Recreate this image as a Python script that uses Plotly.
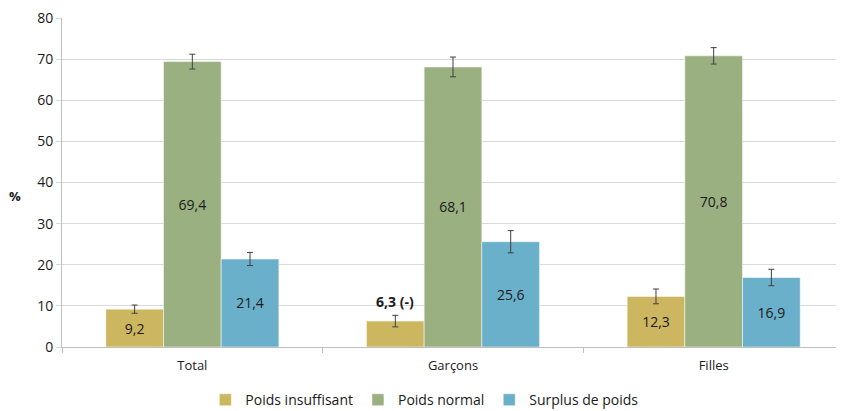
import plotly.graph_objects as go

categories = ["Total", "Garçons", "Filles"]
series_names = ["Poids insuffisant", "Poids normal", "Surplus de poids"]
insuffisant = [9.2, 6.3, 12.3]
normal = [69.4, 68.1, 70.8]
surplus = [21.4, 25.6, 16.9]
err_insuffisant = [1.0, 1.4, 1.8]
err_normal = [1.8, 2.4, 2.0]
err_surplus = [1.6, 2.7, 2.0]
labels_insuffisant = ["9,2", "", "12,3"]
labels_normal = ["69,4", "68,1", "70,8"]
labels_surplus = ["21,4", "25,6", "16,9"]
special_label = "6,3 (-)"
y_ticks = [0, 10, 20, 30, 40, 50, 60, 70, 80]

colors = ["#CDB660", "#9BB081", "#6AB0CB"]
font_family = "Open Sans, Noto Sans, sans-serif"

fig = go.Figure()
for name, vals, errs, labs, col in zip(
    series_names,
    [insuffisant, normal, surplus],
    [err_insuffisant, err_normal, err_surplus],
    [labels_insuffisant, labels_normal, labels_surplus],
    colors,
):
    fig.add_trace(go.Bar(
        name=name, x=categories, y=vals,
        marker=dict(color=col, line=dict(color="rgba(255,255,255,0.5)", width=1)),
        error_y=dict(type="data", array=errs, visible=True, color="#404040",
                     thickness=1, width=3),
        text=labs, textposition="inside", insidetextanchor="middle",
        textangle=0,
        textfont=dict(family=font_family, size=14, color="#1a1a1a"),
        hoverinfo="skip",
    ))

fig.add_annotation(
    x="Garçons", y=insuffisant[1] + err_insuffisant[1], xref="x", yref="y",
    text="<b>" + special_label + "</b>", showarrow=False,
    xshift=-58, yshift=14,
    font=dict(family=font_family, size=14, color="#1a1a1a"),
)
fig.add_annotation(
    x=-0.06, y=0.458, xref="paper", yref="paper", xanchor="center", yanchor="middle",
    text="<b>%</b>", showarrow=False,
    font=dict(family=font_family, size=13, color="#1a1a1a"),
)

fig.update_layout(
    width=836, height=403,
    margin=dict(l=54, r=0, t=10, b=64, autoexpand=False),
    paper_bgcolor="white", plot_bgcolor="white",
    barmode="group", bargap=0.336, bargroupgap=0,
    showlegend=True,
    legend=dict(orientation="h", x=0.464, xanchor="center",
                y=0.027, yref="container", yanchor="middle",
                font=dict(family=font_family, size=14, color="#1a1a1a"),
                itemwidth=30, traceorder="normal"),
    font=dict(family=font_family, size=14, color="#404040"),
)
fig.update_yaxes(
    range=[0, 80], tickvals=y_ticks, showgrid=True, gridcolor="#D9D9D9", gridwidth=1,
    showline=True, linecolor="#BFBFBF", linewidth=1, zeroline=False,
    ticks="outside", ticklen=5, tickcolor="#D9D9D9", automargin=False,
    ticklabeloverflow="allow",
    tickfont=dict(family=font_family, size=14, color="#1a1a1a"),
)
fig.update_xaxes(
    showline=True, linecolor="#BFBFBF", linewidth=1, automargin=False,
    ticks="outside", ticklen=5, tickcolor="#BFBFBF", tickson="boundaries",
    ticklabelstandoff=6,
    tickfont=dict(family=font_family, size=13, color="#1a1a1a"),
)

fig.write_html("out.html")
